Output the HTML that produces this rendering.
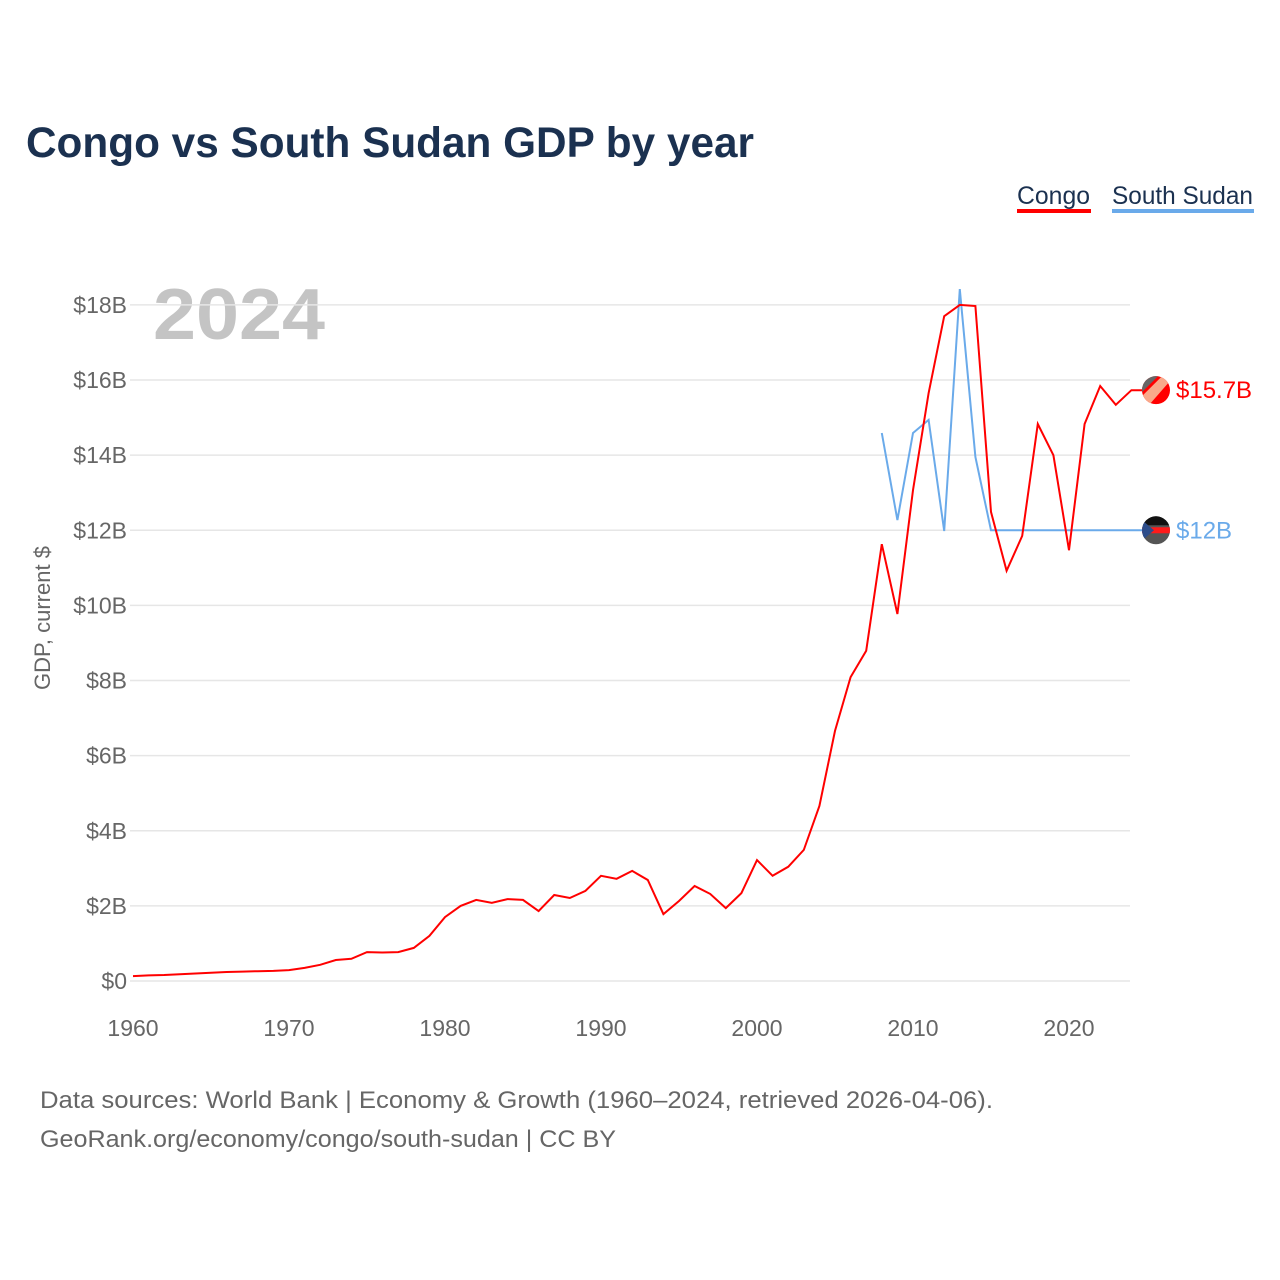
<!DOCTYPE html>
<html><head><meta charset="utf-8">
<style>
body{margin:0;width:1280px;height:1280px;background:#fff;font-family:"Liberation Sans",sans-serif;overflow:hidden}
svg{display:block}
</style></head>
<body>
<svg id="chart" width="1280" height="1280">
<defs>
<clipPath id="c1"><circle cx="1156" cy="0" r="14" id="c1c"/></clipPath>
<clipPath id="c2"><circle cx="1156" cy="0" r="14" id="c2c"/></clipPath>
</defs>
<text x="26" y="157" font-size="43" font-weight="bold" fill="#1b3150" textLength="728" lengthAdjust="spacingAndGlyphs">Congo vs South Sudan GDP by year</text>
<g>
<text x="1017" y="204" font-size="25" fill="#1b3150" textLength="73" lengthAdjust="spacingAndGlyphs">Congo</text>
<rect x="1017" y="209" width="74" height="4" fill="#ff0000"/>
<text x="1112" y="204" font-size="25" fill="#1b3150" textLength="141" lengthAdjust="spacingAndGlyphs">South Sudan</text>
<rect x="1112" y="209" width="142" height="4" fill="#6aaaea"/>
</g>
<text x="153" y="339" font-size="72" font-weight="bold" fill="#c4c4c4" textLength="172" lengthAdjust="spacingAndGlyphs">2024</text>
<text transform="translate(50,618) rotate(-90)" text-anchor="middle" font-size="22" fill="#666">GDP, current $</text>
<g id="grid"></g><g id="yticks"></g><g id="xticks"></g><g id="series"></g>
<text x="40" y="1108" font-size="24" fill="#666" textLength="953" lengthAdjust="spacingAndGlyphs">Data sources: World Bank | Economy &amp; Growth (1960–2024, retrieved 2026-04-06).</text>
<text x="40" y="1147" font-size="24" fill="#666" textLength="576" lengthAdjust="spacingAndGlyphs">GeoRank.org/economy/congo/south-sudan | CC BY</text>
</svg>
<script>
const yTicks=[0,2,4,6,8,10,12,14,16,18];
const yTickLabels=["$0","$2B","$4B","$6B","$8B","$10B","$12B","$14B","$16B","$18B"];
const xTicks=[1960,1970,1980,1990,2000,2010,2020];
const congoYears=[];for(let y=1960;y<=2024;y++)congoYears.push(y);
const congoValues=[0.13,0.15,0.16,0.18,0.2,0.22,0.24,0.25,0.26,0.27,0.29,0.35,0.43,0.56,0.59,0.77,0.76,0.77,0.88,1.2,1.7,2.0,2.16,2.08,2.18,2.16,1.86,2.29,2.21,2.4,2.8,2.72,2.93,2.69,1.78,2.13,2.53,2.32,1.94,2.34,3.22,2.8,3.04,3.49,4.66,6.66,8.09,8.79,11.63,9.77,13.07,15.65,17.7,18.0,17.97,12.49,10.92,11.85,14.83,14.0,11.47,14.83,15.84,15.34,15.73];
const ssYears=[2008,2009,2010,2011,2012,2013,2014,2015,2016,2017,2018,2019,2020,2021,2022,2023,2024];
const ssValues=[14.59,12.27,14.59,14.94,11.98,18.42,13.95,12.0,12.0,12.0,12.0,12.0,12.0,12.0,12.0,12.0,12.0];
const NS="http://www.w3.org/2000/svg";
const X=yr=>133+(yr-1960)*15.6;
const Y=v=>981-v*37.56;
function mk(tag,attrs,parent){const e=document.createElementNS(NS,tag);for(const k in attrs)e.setAttribute(k,attrs[k]);parent.appendChild(e);return e;}
const grid=document.getElementById('grid'),yt=document.getElementById('yticks'),xt=document.getElementById('xticks'),ser=document.getElementById('series');
yTicks.forEach((v,i)=>{
 const l=mk('line',{x1:130,x2:1130,y1:Y(v),y2:Y(v),stroke:'#e6e6e6','stroke-width':1.5},grid);
 
 
 const t=mk('text',{x:127,y:Y(v)+8,'text-anchor':'end','font-size':23,fill:'#666'},yt);
 t.textContent=yTickLabels[i];
 
 
});
xTicks.forEach(v=>{
 const t=mk('text',{x:X(v),y:1036,'text-anchor':'middle','font-size':23,fill:'#666'},xt);
 t.textContent=v;
 
 
});
function pts(xs,vs){return xs.map((x,i)=>X(x).toFixed(1)+','+Y(vs[i]).toFixed(1)).join(' ');}
const ssl=mk('polyline',{points:pts(ssYears,ssValues)+' '+1142+','+Y(ssValues[ssValues.length-1]).toFixed(1),fill:'none',stroke:'#6aaaea','stroke-width':2},ser);


const cl=mk('polyline',{points:pts(congoYears,congoValues)+' '+1142+','+Y(congoValues[congoValues.length-1]).toFixed(1),fill:'none',stroke:'#ff0000','stroke-width':2},ser);


const cy=Y(congoValues[congoValues.length-1]);
document.getElementById('c1c').setAttribute('cy',cy);
const g1=mk('g',{'clip-path':'url(#c1)'},ser);


mk('rect',{x:1140,y:cy-16,width:32,height:32,fill:'#ff0000'},g1);
mk('path',{d:`M1140,${cy+8} L1164,${cy-16} L1176,${cy-16} L1148,${cy+16} L1140,${cy+16} Z`,fill:'#f9a98a'},g1);
mk('path',{d:`M1140,${cy+4} L1160,${cy-16} L1140,${cy-16} Z`,fill:'#666'},g1);
const ct=mk('text',{x:1176,y:cy+8,'font-size':24,fill:'#ff0000'},ser);
ct.textContent='$15.7B';


const sy=Y(ssValues[ssValues.length-1]);
document.getElementById('c2c').setAttribute('cy',sy);
const g2=mk('g',{'clip-path':'url(#c2)'},ser);


mk('rect',{x:1140,y:sy-16,width:32,height:32,fill:'#555'},g2);
mk('rect',{x:1140,y:sy-16,width:32,height:11,fill:'#111'},g2);
mk('rect',{x:1140,y:sy-3,width:32,height:6,fill:'#ff1a1a'},g2);
mk('path',{d:`M1140,${sy-12} L1154,${sy} L1140,${sy+12} Z`,fill:'#2d4d8a'},g2);
const st=mk('text',{x:1176,y:sy+8,'font-size':24,fill:'#6aaaea'},ser);
st.textContent='$12B';


</script>
</body></html>
